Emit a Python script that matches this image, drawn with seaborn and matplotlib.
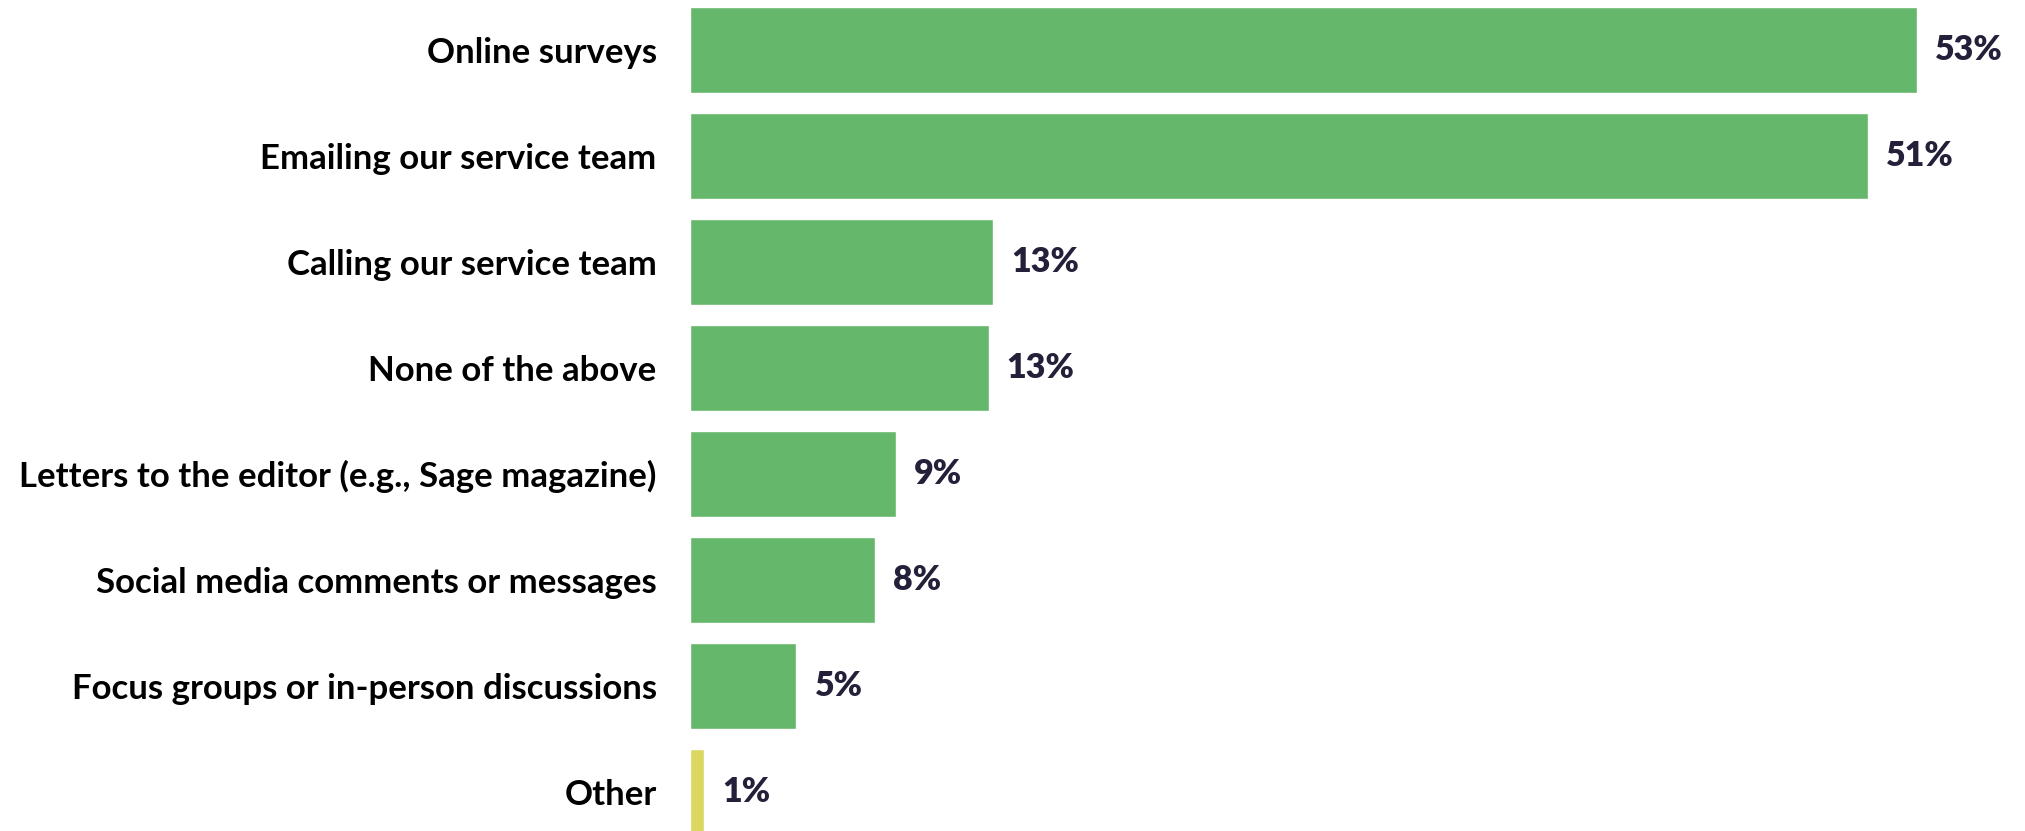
import matplotlib
matplotlib.use("Agg")
import matplotlib.pyplot as plt
import pandas as pd
import seaborn as sns

CATEGORIES = [
    "Online surveys",
    "Emailing our service team",
    "Calling our service team",
    "None of the above",
    "Letters to the editor (e.g., Sage magazine)",
    "Social media comments or messages",
    "Focus groups or in-person discussions",
    "Other",
]
VALUES = [53.0, 50.9, 13.1, 12.9, 8.9, 8.0, 4.6, 0.6]
VALUE_LABELS = ["53%", "51%", "13%", "13%", "9%", "8%", "5%", "1%"]

GREEN = "#65b76b"
YELLOW = "#dbd862"
BAR_COLORS = [GREEN] * 7 + [YELLOW]
LABEL_COLOR = "#24203a"


def main() -> None:
    df = pd.DataFrame({"category": CATEGORIES, "value": VALUES})

    sns.set_theme(style="white")
    plt.rcParams["font.family"] = ["Lato", "DejaVu Sans"]

    fig = plt.figure(figsize=(20.25, 8.31), dpi=100)
    ax = fig.add_axes([690 / 2025, 0.0, 1296 / 2025, 1.0])

    sns.barplot(
        data=df, x="value", y="category",
        hue="category", palette=BAR_COLORS, legend=False,
        orient="h", width=0.81, saturation=1, ax=ax,
    )

    ax.set_xlim(0, 56)
    ax.set_ylim(7.37, -0.472)

    for i, (v, lab) in enumerate(zip(VALUES, VALUE_LABELS)):
        ax.annotate(lab, xy=(v, i), xytext=(18, 0), textcoords="offset pixels",
                    va="center", ha="left", fontsize=24.5, fontweight="heavy",
                    color=LABEL_COLOR)

    ax.set_xlabel("")
    ax.set_ylabel("")
    ax.set_xticks([])
    ax.tick_params(axis="y", length=0, pad=24, labelsize=25)
    for t in ax.get_yticklabels():
        t.set_fontweight("bold")
        t.set_color("black")
    sns.despine(ax=ax, left=True, bottom=True)

    fig.savefig("out.png", dpi=100)
    plt.close(fig)


if __name__ == "__main__":
    main()
